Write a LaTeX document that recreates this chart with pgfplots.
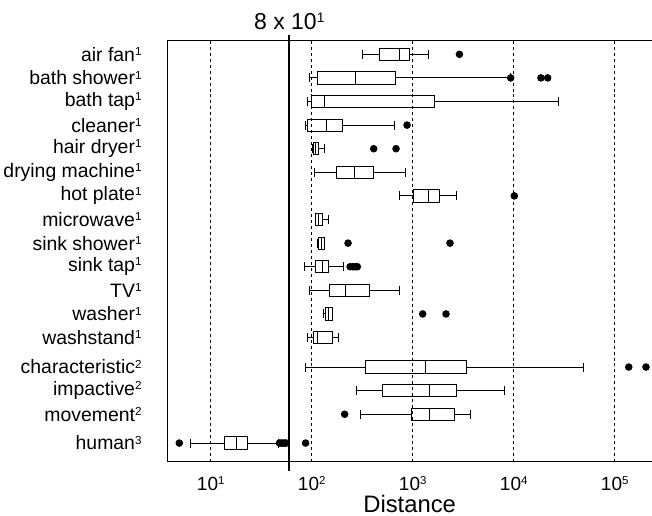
\documentclass[border=0pt]{standalone}
\usepackage{fontspec}
\setmainfont{Liberation Sans}
\usepackage{graphicx}
\usepackage{pgfplots}
\pgfplotsset{compat=1.18}
\usepgfplotslibrary{statistics}
\newcommand\sups[1]{\raisebox{0.30em}{\scalebox{0.6}{#1}}}
\begin{document}
\begin{tikzpicture}
\begin{axis}[
  scale only axis, width=484.7bp, height=421bp,
  xmode=log, xmin=3.72, xmax=233900,
  ymin=0.424, ymax=18.26, y dir=reverse,
  xtick={10,100,1000,10000,100000},
  xticklabels={10\sups{1},10\sups{2},10\sups{3},10\sups{4},10\sups{5}},
  xminorticks=false, tick style={draw=none},
  xmajorgrids, major grid style={dashed, black, line width=0.6bp},
  ytick={1,2,3,4,5,6,7,8,9,10,11,12,13,14.25,15.24,16.25,17.47},
  yticklabels={air fan\sups{1},bath shower\sups{1},bath tap\sups{1},cleaner\sups{1},hair dryer\sups{1},drying machine\sups{1},hot plate\sups{1},microwave\sups{1},sink shower\sups{1},sink tap\sups{1},TV\sups{1},washer\sups{1},washstand\sups{1},characteristic\sups{2},impactive\sups{2},movement\sups{2},human\sups{3}},
  yticklabel style={inner sep=0pt, xshift=-25.6bp, font=\fontsize{19.4bp}{22bp}\selectfont},
  xticklabel style={anchor=base, inner sep=0pt, yshift=-28.3bp, font=\fontsize{19bp}{22bp}\selectfont},
  xlabel={Distance},
  xlabel style={at={(axis description cs:0.5,0)}, anchor=base, inner sep=0pt, yshift=-50.8bp, font=\fontsize{23.8bp}{27bp}\selectfont},
  axis line style={line width=0.9bp},
  clip=false,
  boxplot/box extend=0.52, boxplot/whisker extend=0.38,
  bp/.style={black, line width=0.9bp, mark=*, mark size=3.3bp, mark options={solid, fill=black}},
]
% air fan
\addplot[bp, boxplot prepared={draw position=1, lower whisker=315, lower quartile=467, median=736, upper quartile=933, upper whisker=1416}] coordinates {(1,2900)};
% bath shower
\addplot[bp, boxplot prepared={draw position=2, lower whisker=94, lower quartile=114, median=270, upper quartile=668, upper whisker=9330}] coordinates {(1,9330) (1,18600) (1,21700)};
% bath tap
\addplot[bp, boxplot prepared={draw position=3, lower whisker=89.8, lower quartile=100, median=133, upper quartile=1652, upper whisker=27700}] coordinates {};
% cleaner
\addplot[bp, boxplot prepared={draw position=4, lower whisker=85.9, lower quartile=91.2, median=141, upper quartile=203, upper whisker=658}] coordinates {(1,879)};
% hair dryer
\addplot[bp, boxplot prepared={draw position=5, lower whisker=100.7, lower quartile=105, median=110, upper quartile=116, upper whisker=133}] coordinates {(1,411) (1,684)};
% drying machine
\addplot[bp, boxplot prepared={draw position=6, lower whisker=107, lower quartile=175, median=264, upper quartile=408, upper whisker=853}] coordinates {};
% hot plate
\addplot[bp, boxplot prepared={draw position=7, lower whisker=743, lower quartile=1014, median=1440, upper quartile=1836, upper whisker=2687}] coordinates {(1,10140)};
% microwave
\addplot[bp, boxplot prepared={draw position=8, lower whisker=108, lower quartile=110, median=116, upper quartile=127, upper whisker=148}] coordinates {};
% sink shower
\addplot[bp, boxplot prepared={draw position=9, lower whisker=115, lower quartile=116, median=124, upper quartile=133, upper whisker=135}] coordinates {(1,229) (1,2340)};
% sink tap
\addplot[bp, boxplot prepared={draw position=10, lower whisker=83.9, lower quartile=109, median=127, upper quartile=147, upper whisker=204}] coordinates {(1,240) (1,255) (1,270) (1,283)};
% TV
\addplot[bp, boxplot prepared={draw position=11, lower whisker=95.4, lower quartile=151, median=217, upper quartile=372, upper whisker=731}] coordinates {};
% washer
\addplot[bp, boxplot prepared={draw position=12, lower whisker=131, lower quartile=136, median=146, upper quartile=159, upper whisker=161}] coordinates {(1,1256) (1,2138)};
% washstand
\addplot[bp, boxplot prepared={draw position=13, lower whisker=89.8, lower quartile=104, median=114, upper quartile=160, upper whisker=184}] coordinates {};
% characteristic
\addplot[bp, boxplot prepared={draw position=14.25, lower whisker=87, lower quartile=343, median=1346, upper quartile=3400, upper whisker=49300}] coordinates {(1,137700) (1,204000)};
% impactive
\addplot[bp, boxplot prepared={draw position=15.24, lower whisker=279, lower quartile=505, median=1449, upper quartile=2728, upper whisker=8075}] coordinates {};
% movement
\addplot[bp, boxplot prepared={draw position=16.25, lower whisker=303, lower quartile=977, median=1462, upper quartile=2606, upper whisker=3690}] coordinates {(1,212)};
% human
\addplot[bp, boxplot prepared={draw position=17.47, lower whisker=6.24, lower quartile=13.8, median=17.96, upper quartile=23.1, upper whisker=46.7}] coordinates {(1,4.89) (1,48) (1,50) (1,52) (1,54) (1,56) (1,87)};
\draw[line width=2.2bp] (axis cs:60,0.182) -- (axis cs:60,18.64);
\node[anchor=base, inner sep=0pt, font=\fontsize{23bp}{26bp}\selectfont] at (axis cs:60,-0.059) {8 x 10\sups{1}};
\end{axis}
\pgfresetboundingbox
\path[use as bounding box] (-167.3bp,-54.3bp) rectangle (484.7bp,461.7bp);
\end{tikzpicture}
\end{document}
